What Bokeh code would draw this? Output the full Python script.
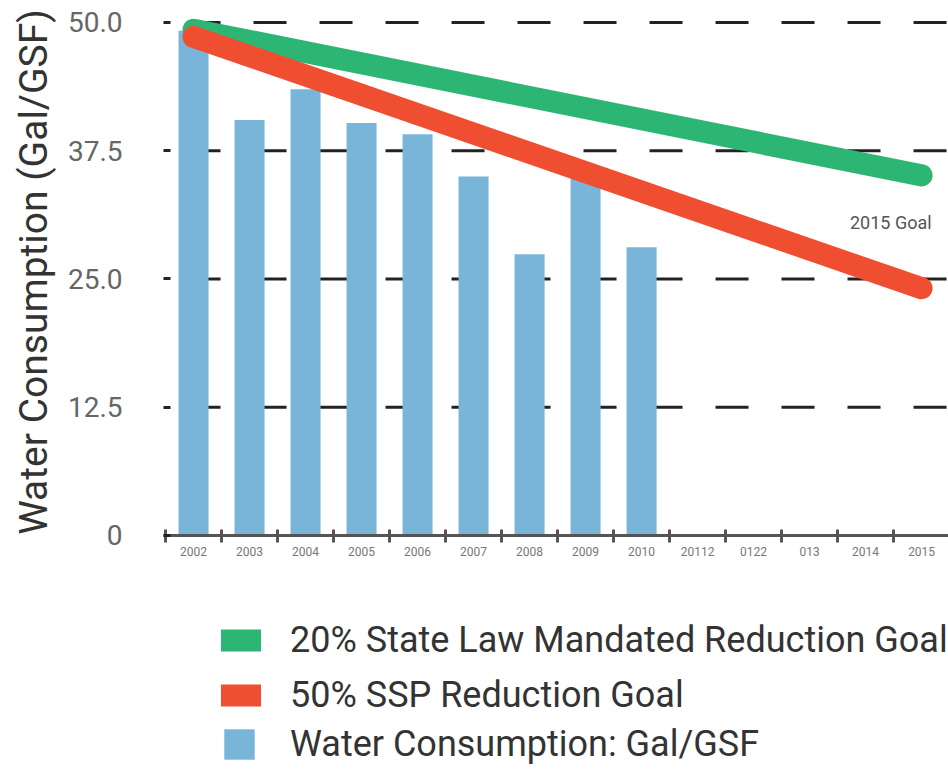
import math
from bokeh.plotting import figure
from bokeh.models import (FixedTicker, Range1d, Legend, LegendItem, Label, ColumnDataSource)
from bokeh.embed import file_html
from bokeh.resources import INLINE

FONT = "Roboto"

# ---- data ----
years = ["2002", "2003", "2004", "2005", "2006", "2007", "2008", "2009", "2010",
         "20112", "0122", "013", "2014", "2015"]
consumption_years = ["2002", "2003", "2004", "2005", "2006", "2007", "2008", "2009", "2010"]
consumption = [49.2, 40.5, 43.5, 40.2, 39.1, 35.0, 27.4, 35.5, 28.1]
goal_years = ["2002", "2015"]
state_goal = [49.3, 35.1]
ssp_goal = [48.6, 24.1]
y_ticks = [0, 12.5, 25, 37.5, 50]
y_tick_labels = ["0", "12.5", "25.0", "37.5", "50.0"]

idx = {y: i for i, y in enumerate(years)}
x_lo, x_hi = -0.536, 13.48          # extent of the category axis
bar_src = ColumnDataSource(dict(x=[idx[y] for y in consumption_years], top=consumption))
state_src = ColumnDataSource(dict(x=[idx[y] for y in goal_years], y=state_goal))
ssp_src = ColumnDataSource(dict(x=[idx[y] for y in goal_years], y=ssp_goal))
grid_ticks = [t for t in y_ticks if t > 0]
grid_src = ColumnDataSource(dict(x0=[x_lo] * len(grid_ticks), x1=[x_hi] * len(grid_ticks),
                                 y=grid_ticks))

p = figure(width=948, height=773, output_backend="svg", toolbar_location=None,
           x_range=Range1d(-3.447, x_hi), y_range=Range1d(-23.197, 52.144),
           min_border_left=0, min_border_right=0, min_border_top=0,
           min_border_bottom=0)
p.outline_line_color = None
p.background_fill_color = "white"
p.border_fill_color = "white"

GREEN = "#2db673"
RED = "#f04e30"
BLUE = "#78b5d8"

# dashed horizontal guide lines at the y ticks
p.segment(x0="x0", x1="x1", y0="y", y1="y", source=grid_src, line_color="#222222",
          line_width=3, line_dash="33 33", line_dash_offset=42)

bars = p.vbar(x="x", top="top", bottom=0, width=0.536, source=bar_src,
              fill_color=BLUE, line_color=None)
green = p.line(x="x", y="y", source=state_src, line_color=GREEN, line_width=22,
               line_cap="round")
red = p.line(x="x", y="y", source=ssp_src, line_color=RED, line_width=22,
             line_cap="round")

# ---- axes ----
xa = p.xaxis[0]
xa.fixed_location = 0
xa.bounds = (x_lo, x_hi)
xa.ticker = FixedTicker(ticks=list(range(len(years))),
                        minor_ticks=[i - 0.5 for i in range(len(years))])
xa.major_label_overrides = {i: y for i, y in enumerate(years)}
xa.major_tick_in = 0
xa.major_tick_out = 0
xa.minor_tick_in = 6
xa.minor_tick_out = 7
xa.minor_tick_line_width = 3
xa.minor_tick_line_color = "#555555"
xa.axis_line_color = "#555555"
xa.axis_line_width = 3
xa.major_label_text_font = FONT
xa.major_label_text_font_size = "12px"
xa.major_label_text_color = "#777777"
xa.major_label_standoff = 5

ya = p.yaxis[0]
ya.fixed_location = x_lo
ya.bounds = (0, 50)
ya.ticker = FixedTicker(ticks=y_ticks)
ya.major_label_overrides = {t: l for t, l in zip(y_ticks, y_tick_labels)}
ya.axis_line_color = None
ya.major_tick_in = 7
ya.major_tick_out = 0
ya.major_tick_line_width = 3
ya.major_tick_line_color = "#222222"
ya.minor_tick_line_color = None
ya.major_label_text_font = FONT
ya.major_label_text_font_size = "28px"
ya.major_label_text_color = "#666666"
ya.major_label_standoff = 41

p.xgrid.visible = False
p.ygrid.visible = False

# axis title (rotated)
p.add_layout(Label(x=-2.85, y=25.68, text="Water Consumption (Gal/GSF)",
                   angle=math.pi / 2, text_font=FONT, text_font_size="39px",
                   text_color="#333333", text_align="center",
                   text_baseline="alphabetic"))

p.add_layout(Label(x=12.45, y=30.5, text="2015 Goal", text_font=FONT,
                   text_font_size="18px", text_color="#555555",
                   text_align="center", text_baseline="middle"))

# ---- legends ----
leg_a = Legend(items=[LegendItem(label="20% State Law Mandated Reduction Goal", renderers=[green]),
                      LegendItem(label="50% SSP Reduction Goal", renderers=[red])],
               location=(221, 53), orientation="vertical",
               glyph_width=40, glyph_height=50, label_height=50, spacing=5,
               padding=0, margin=0, label_standoff=29,
               label_text_font=FONT, label_text_font_size="36px",
               label_text_color="#333333", border_line_color=None,
               background_fill_alpha=0)
leg_b = Legend(items=[LegendItem(label="Water Consumption: Gal/GSF", renderers=[bars])],
               location=(220, 8), orientation="vertical",
               glyph_width=38, glyph_height=38, label_height=38, spacing=0,
               padding=0, margin=0, label_standoff=32,
               label_text_font=FONT, label_text_font_size="36px",
               label_text_color="#333333", border_line_color=None,
               background_fill_alpha=0)
p.add_layout(leg_a)
p.add_layout(leg_b)

open("out.html", "w").write(file_html(p, INLINE))
